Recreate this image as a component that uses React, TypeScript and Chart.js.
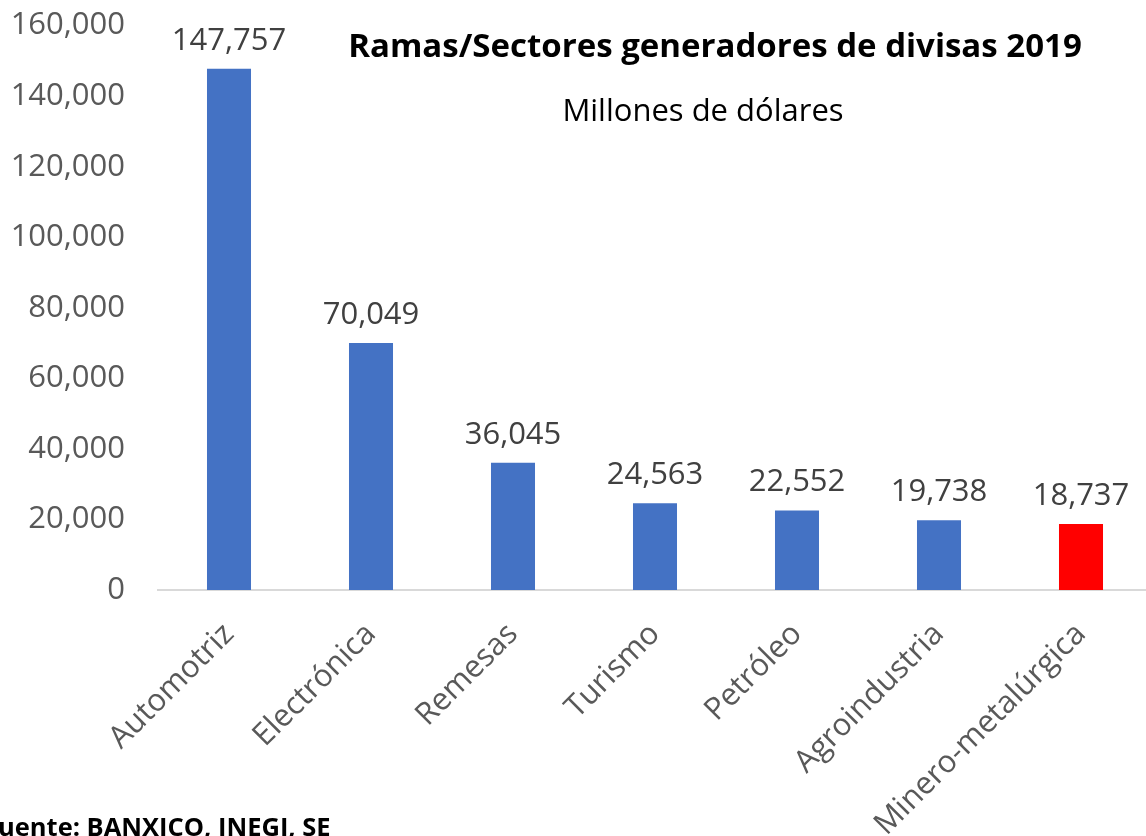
import React, { useEffect, useRef } from "react";
import { Chart, registerables } from "chart.js";

Chart.register(...registerables);

const categories = ["Automotriz", "Electrónica", "Remesas", "Turismo", "Petróleo", "Agroindustria", "Minero-metalúrgica"];
const values = [147757, 70049, 36045, 24563, 22552, 19738, 18737];
const barColors = ["#4472C4", "#4472C4", "#4472C4", "#4472C4", "#4472C4", "#4472C4", "#FF0000"];
const yTicks = [0, 20000, 40000, 60000, 80000, 100000, 120000, 140000, 160000];
const titleText = "Ramas/Sectores generadores de divisas 2019";
const subtitleText = "Millones de dólares";
const footerText = "Fuente: BANXICO, INEGI, SE";

const FONT = "'Open Sans', sans-serif";
const SHIFT = 26;
const fmt = (v: number) => v.toLocaleString("en-US");

const overlay = {
  id: "overlay",
  afterDatasetsDraw(chart: any) {
    const ctx = chart.ctx;
    const meta = chart.getDatasetMeta(0);
    ctx.save();
    ctx.fillStyle = "#404040";
    ctx.font = `31px ${FONT}`;
    ctx.textAlign = "center";
    ctx.textBaseline = "alphabetic";
    meta.data.forEach((bar: any, i: number) => {
      ctx.fillText(fmt(values[i]), bar.x, bar.y - 19);
    });
    ctx.fillStyle = "#000000";
    ctx.font = `bold 33px ${FONT}`;
    ctx.fillText(titleText, 715, 57 + SHIFT);
    ctx.font = `31px ${FONT}`;
    ctx.fillText(subtitleText, 703, 121 + SHIFT);
    ctx.textAlign = "left";
    ctx.font = `bold 25.5px ${FONT}`;
    ctx.fillText(footerText, -16, 836 + SHIFT);
    ctx.restore();
  },
};

export default function App() {
  const ref = useRef<HTMLCanvasElement>(null);
  useEffect(() => {
    const chart = new Chart(ref.current!, {
      type: "bar",
      data: {
        labels: categories,
        datasets: [
          {
            data: values,
            backgroundColor: barColors,
            barPercentage: 0.31,
            categoryPercentage: 1,
          },
        ],
      },
      options: {
        animation: false,
        responsive: false,
        maintainAspectRatio: false,
        layout: { padding: { top: 0, right: 0, left: 0, bottom: 0 } },
        plugins: { legend: { display: false }, tooltip: { enabled: false }, title: { display: false } },
        scales: {
          x: {
            grid: { display: false, drawTicks: false },
            border: { display: true, color: "#D9D9D9", width: 2 },
            ticks: {
              color: "#595959",
              font: { family: FONT, size: 31 },
              minRotation: 45,
              maxRotation: 45,
              padding: 26,
              autoSkip: false,
            },
            afterFit(scale: any) {
              scale.height = 246;
            },
          },
          y: {
            min: 0,
            max: 160000,
            afterBuildTicks(scale: any) {
              scale.ticks = yTicks.map((v) => ({ value: v }));
            },
            grid: { display: false, drawTicks: false },
            border: { display: false },
            ticks: {
              color: "#595959",
              font: { family: FONT, size: 31 },
              padding: 33,
              callback: (v: any) => fmt(Number(v)),
            },
            afterFit(scale: any) {
              scale.width = 158;
            },
          },
        },
      },
      plugins: [overlay],
    });
    return () => chart.destroy();
  }, []);
  return (
    <div style={{ position: "fixed", left: 0, top: 0, width: 1146, height: 836, overflow: "hidden", background: "#fff" }}>
      <canvas ref={ref} width={1152} height={836 + SHIFT} style={{ display: "block", marginTop: -SHIFT }} />
    </div>
  );
}
